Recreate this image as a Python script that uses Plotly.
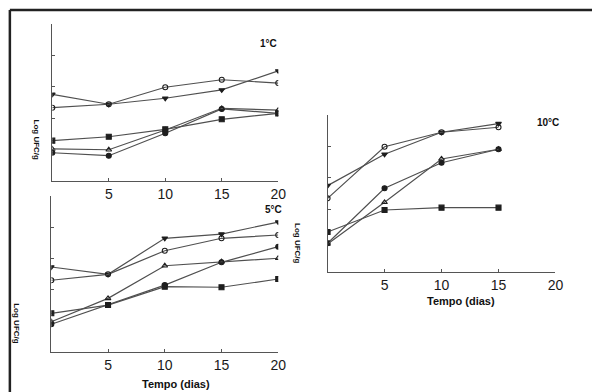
import plotly.graph_objects as go

days = [0, 5, 10, 15, 20]
days10 = [0, 5, 10, 15]

# Panel 1 °C
p1_A = [5.52, 4.89, 5.27, 5.80, 7.01]
p1_B = [4.67, 4.89, 5.97, 6.45, 6.24]
p1_C = [1.80, 1.61, 3.04, 4.59, 4.31]
p1_D = [2.04, 1.99, 3.25, 4.63, 4.52]
p1_E = [2.57, 2.82, 3.29, 3.93, 4.31]

# Panel 5 °C
p5_A = [5.45, 4.98, 7.29, 7.56, 8.33]
p5_B = [4.60, 4.98, 6.49, 7.29, 7.50]
p5_C = [1.78, 3.01, 4.29, 5.75, 6.75]
p5_D = [1.94, 3.44, 5.53, 5.79, 6.01]
p5_E = [2.48, 3.01, 4.19, 4.15, 4.68]

# Panel 10 °C
p10_A = [5.50, 7.50, 8.90, 9.45]
p10_B = [4.69, 7.98, 8.90, 9.22]
p10_C = [1.83, 5.33, 6.96, 7.82]
p10_D = [1.78, 4.44, 7.20, 7.82]
p10_E = [2.55, 3.95, 4.10, 4.10]

x_ticks = [5, 10, 15, 20]
x_labels = ["5", "10", "15", "20"]
panel_titles = ["1°C", "5°C", "10°C"]

symbols = ["triangle-down", "circle-open", "circle", "triangle-up-open", "square"]
LINE = "#505050"
MK = "#1e1e1e"

fig = go.Figure()

panels = [
    ("x", "y", days, [p1_A, p1_B, p1_C, p1_D, p1_E]),
    ("x2", "y2", days, [p5_A, p5_B, p5_C, p5_D, p5_E]),
    ("x3", "y3", days10, [p10_A, p10_B, p10_C, p10_D, p10_E]),
]
for xa, ya, xs, series in panels:
    for s, sym in zip(series, symbols):
        fig.add_trace(go.Scatter(
            x=xs, y=s, xaxis=xa, yaxis=ya, mode="lines+markers",
            line=dict(color=LINE, width=1.2),
            marker=dict(symbol=sym, size=5, color=MK,
                        line=dict(color=MK, width=1.1)),
            showlegend=False, hoverinfo="skip"))

W, H = 600, 392
def px(v):
    return v / W
def py(v):
    return 1 - v / H

xcommon = dict(range=[0, 20], tickvals=x_ticks, ticktext=x_labels,
               showline=True, linecolor="#555", linewidth=1.3,
               ticks="inside", ticklen=3, tickcolor="#555",
               showgrid=False, zeroline=False,
               tickfont=dict(family="Liberation Sans", size=14, color="#1a1a1a"))
ycommon = dict(range=[0, 10], tickvals=[0, 2, 4, 6, 8, 10],
               showticklabels=False, showline=True, linecolor="#555",
               linewidth=1.3, ticks="inside", ticklen=3, tickcolor="#555",
               showgrid=False, zeroline=False)

fig.update_layout(
    width=W, height=H, margin=dict(l=0, r=0, t=0, b=0),
    paper_bgcolor="white", plot_bgcolor="rgba(0,0,0,0)",
    xaxis=dict(domain=[px(53), px(282)], anchor="y", **xcommon),
    yaxis=dict(domain=[py(181), py(24)], anchor="x", **ycommon),
    xaxis2=dict(domain=[px(52), px(282)], anchor="y2", **xcommon),
    yaxis2=dict(domain=[py(352), py(196)], anchor="x2", **ycommon),
    xaxis3=dict(domain=[px(332), px(563)], anchor="y3", **xcommon),
    yaxis3=dict(domain=[py(272), py(115)], anchor="x3", **ycommon),
)

ann = []
bold = dict(family="Liberation Sans", color="#111")
def add(xp, yp, txt, size, angle=0):
    ann.append(dict(x=px(xp), y=py(yp), xref="paper", yref="paper", text="<b>%s</b>" % txt,
                    xanchor="center", yanchor="middle", textangle=angle,
                    showarrow=False, font=dict(size=size, **bold)))
# panel titles
add(272, 43, panel_titles[0], 10)
add(277, 209, panel_titles[1], 10)
add(555, 123, panel_titles[2], 10)
# y labels
for (xp, yp) in [(37, 140), (17, 324), (302, 244)]:
    add(xp, yp, "Log UFC/g", 8, 90)
# x titles
add(178, 384, "Tempo (dias)", 11)
add(467, 301, "Tempo (dias)", 11)
fig.update_layout(annotations=ann)

# scanned frame (top and left edges)
fig.add_shape(type="line", xref="paper", yref="paper", x0=px(10), y0=py(10), x1=1, y1=py(10),
              line=dict(color="#222", width=2.5))
fig.add_shape(type="line", xref="paper", yref="paper", x0=px(10), y0=py(10), x1=px(10), y1=0,
              line=dict(color="#222", width=2.5))

fig.write_html("out.html")
